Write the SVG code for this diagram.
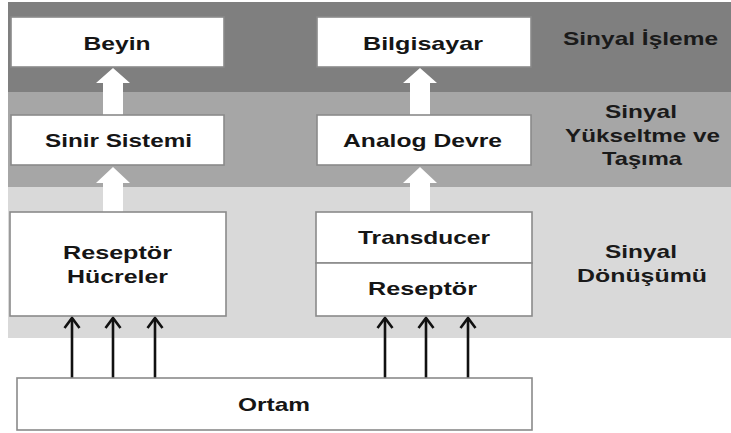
<svg xmlns="http://www.w3.org/2000/svg" width="731" height="433" viewBox="0 0 731 433">
<style>
.box{fill:#ffffff;stroke:#8a8a8a;stroke-width:1.6}
.t{font-family:"Liberation Sans",Arial,sans-serif;font-weight:bold;font-size:19px;fill:#151515;text-anchor:middle}
.lbl{font-family:"Liberation Sans",Arial,sans-serif;font-weight:bold;font-size:19px;fill:#1a1a1a;text-anchor:middle}
.blk{fill:#ffffff}
.thin{stroke:#111111;stroke-width:2.6;fill:none;marker-end:url(#chev)}
</style>
<defs>
<marker id="chev" markerUnits="userSpaceOnUse" markerWidth="24" markerHeight="24" viewBox="-12 -12 24 24" refX="0" refY="0" orient="auto">
<path d="M-10,-7.5 L0,0 L-10,7.5" fill="none" stroke="#111111" stroke-width="2.6"/>
</marker>
</defs>
<rect x="0" y="0" width="731" height="433" fill="#ffffff"/>
<g id="bands">
<rect x="8" y="2" width="723" height="90" fill="#7f7f7f"/>
<rect x="8" y="92" width="723" height="95" fill="#a6a6a6"/>
<rect x="8" y="187" width="723" height="151" fill="#d9d9d9"/>
</g>
<g id="band-labels">
<text class="lbl" x="640.5" y="45" textLength="155" lengthAdjust="spacingAndGlyphs">Sinyal İşleme</text>
<text class="lbl" x="641" y="118" textLength="72" lengthAdjust="spacingAndGlyphs">Sinyal</text>
<text class="lbl" x="642.5" y="142" textLength="155" lengthAdjust="spacingAndGlyphs">Yükseltme ve</text>
<text class="lbl" x="642" y="165" textLength="80" lengthAdjust="spacingAndGlyphs">Taşıma</text>
<text class="lbl" x="641" y="258" textLength="72" lengthAdjust="spacingAndGlyphs">Sinyal</text>
<text class="lbl" x="642" y="282" textLength="130" lengthAdjust="spacingAndGlyphs">Dönüşümü</text>
</g>
<g id="connectors">
<path class="blk" d="M103,115 L103,83 L96,83 L113,68 L130,83 L123,83 L123,115 Z"/>
<path class="blk" d="M410,115 L410,83 L403,83 L420,68 L437,83 L430,83 L430,115 Z"/>
<path class="blk" d="M103,212 L103,183 L96,183 L113,167 L130,183 L123,183 L123,212 Z"/>
<path class="blk" d="M410,212 L410,183 L403,183 L420,167 L437,183 L430,183 L430,212 Z"/>
<line class="thin" x1="72" y1="378" x2="72" y2="318"/>
<line class="thin" x1="113" y1="378" x2="113" y2="318"/>
<line class="thin" x1="155" y1="378" x2="155" y2="318"/>
<line class="thin" x1="385" y1="378" x2="385" y2="318"/>
<line class="thin" x1="426" y1="378" x2="426" y2="318"/>
<line class="thin" x1="468" y1="378" x2="468" y2="318"/>
</g>
<g id="beyin">
<rect class="box" x="11" y="17" width="213" height="50"/>
<text class="t" x="117" y="50" textLength="67" lengthAdjust="spacingAndGlyphs">Beyin</text>
</g>
<g id="bilgisayar">
<rect class="box" x="317" y="17" width="214" height="50"/>
<text class="t" x="423" y="50" textLength="120" lengthAdjust="spacingAndGlyphs">Bilgisayar</text>
</g>
<g id="sinir-sistemi">
<rect class="box" x="11" y="115" width="213" height="50"/>
<text class="t" x="118.5" y="147" textLength="147" lengthAdjust="spacingAndGlyphs">Sinir Sistemi</text>
</g>
<g id="analog-devre">
<rect class="box" x="317" y="115" width="214" height="50"/>
<text class="t" x="422.5" y="147" textLength="159" lengthAdjust="spacingAndGlyphs">Analog Devre</text>
</g>
<g id="reseptor-hucreler">
<rect class="box" x="10" y="212" width="216" height="104"/>
<text class="t" x="117.5" y="259" textLength="109" lengthAdjust="spacingAndGlyphs">Reseptör</text>
<text class="t" x="117.5" y="283" textLength="101" lengthAdjust="spacingAndGlyphs">Hücreler</text>
</g>
<g id="transducer">
<rect class="box" x="316" y="212" width="216" height="51"/>
<text class="t" x="424" y="244" textLength="132" lengthAdjust="spacingAndGlyphs">Transducer</text>
</g>
<g id="reseptor">
<rect class="box" x="316" y="263" width="216" height="53"/>
<text class="t" x="422.5" y="295" textLength="109" lengthAdjust="spacingAndGlyphs">Reseptör</text>
</g>
<g id="ortam">
<rect class="box" x="17" y="378" width="515" height="52"/>
<text class="t" x="274" y="411" textLength="72" lengthAdjust="spacingAndGlyphs">Ortam</text>
</g>
</svg>
